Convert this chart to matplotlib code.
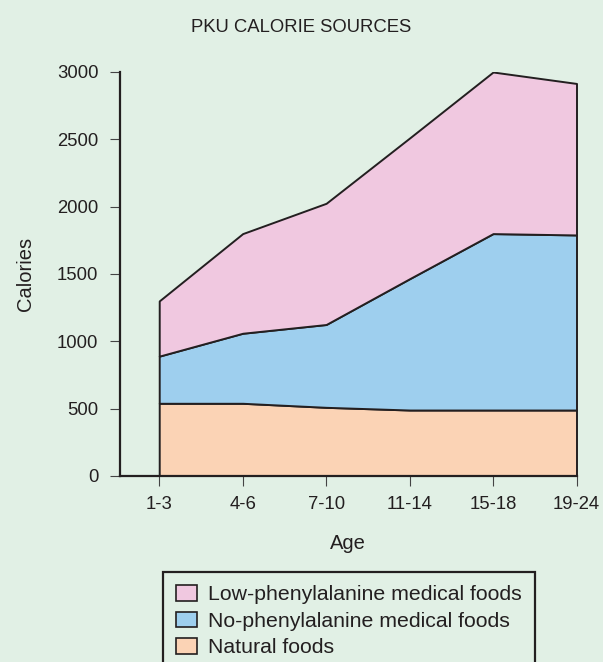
import matplotlib
matplotlib.use("Agg")
import matplotlib.pyplot as plt
from matplotlib.patches import Patch

# data
ages = ['1-3', '4-6', '7-10', '11-14', '15-18', '19-24']
natural = [540, 540, 510, 490, 490, 490]
no_phe = [350, 520, 615, 975, 1310, 1300]
low_phe = [410, 740, 900, 1045, 1200, 1125]
labels = ['Natural foods', 'No-phenylalanine medical foods', 'Low-phenylalanine medical foods']
colors = ['#fbd3b5', '#9ecfee', '#f0c8e0']

bg = '#e1f0e5'
ink = '#231f20'

plt.rcParams['font.family'] = ['Liberation Sans', 'DejaVu Sans']
plt.rcParams['text.color'] = ink

fig = plt.figure(figsize=(6.03, 6.62), dpi=100, facecolor=bg)
ax = fig.add_axes([120 / 603, 1 - 476 / 662, (576.5 - 120) / 603, (476 - 72) / 662])
ax.set_facecolor(bg)

x = list(range(len(ages)))
ax.stackplot(x, natural, no_phe, low_phe, colors=colors,
             edgecolor=ink, linewidth=1.4)

ax.set_xlim(-0.47, len(ages) - 1)
ax.set_ylim(0, 3000)
ax.set_xticks(x)
ax.set_xticklabels(ages)
ax.set_yticks(range(0, 3001, 500))

for side in ['top', 'right']:
    ax.spines[side].set_visible(False)
for side in ['left', 'bottom']:
    ax.spines[side].set_linewidth(1.6)
    ax.spines[side].set_color(ink)

ax.tick_params(direction='out', length=7.5, width=0.8, color='#444444',
               labelsize=13.3, labelcolor=ink)
ax.tick_params(axis='y', pad=8)
ax.tick_params(axis='x', pad=7)

ax.set_xlabel('Age', fontsize=14.5, color=ink, labelpad=15)
ax.set_ylabel('Calories', fontsize=14.5, color=ink, labelpad=16)
fig.text(0.5, 1 - 28 / 662, 'PKU CALORIE SOURCES', ha='center', va='center',
         fontsize=13.3, color=ink)

handles = [Patch(facecolor=c, edgecolor=ink, linewidth=1.2) for c in colors]
leg = fig.legend(handles[::-1], labels[::-1], loc='upper left',
                 bbox_to_anchor=(163 / 603, 1 - 572 / 662), borderaxespad=0,
                 fontsize=15.3, frameon=True, fancybox=False,
                 handlelength=1.0, handleheight=0.75, handletextpad=0.5,
                 labelspacing=0.34, borderpad=0.62)
frame = leg.get_frame()
frame.set_facecolor(bg)
frame.set_edgecolor(ink)
frame.set_linewidth(1.6)
frame.set_alpha(1)

fig.savefig('out.png', dpi=100, facecolor=bg)
